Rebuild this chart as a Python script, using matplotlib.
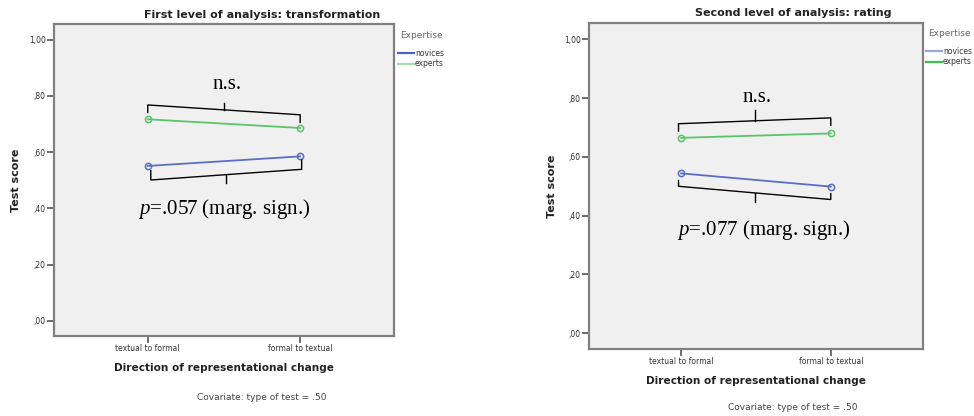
import matplotlib.pyplot as plt
from matplotlib.lines import Line2D

plt.rcParams['mathtext.fontset'] = 'custom'
plt.rcParams['mathtext.it'] = 'Liberation Serif:italic'
plt.rcParams['mathtext.rm'] = 'Liberation Serif'

# data
directions = ['textual to formal', 'formal to textual']
yticks = [0.0, 0.2, 0.4, 0.6, 0.8, 1.0]
ytick_labels = [',00', ',20', ',40', ',60', ',80', '1,00']

novices_transf = [0.551, 0.585]
experts_transf = [0.717, 0.686]
novices_rating = [0.544, 0.499]
experts_rating = [0.665, 0.680]

titles = ['First level of analysis: transformation', 'Second level of analysis: rating']
notes = ['p=.057 (marg. sign.)', 'p=.077 (marg. sign.)']

blue = '#5a6ec6'
green = '#5cc468'
frame = '#808080'

fig = plt.figure(figsize=(9.74, 4.16), dpi=100)
fig.patch.set_facecolor('white')


def bracket(ax, x0, y0, x1, y1, tick, nub):
	# skewed bracket: ends bent by tick, middle nub by nub
	xm = (x0 + x1) / 2
	ym = (y0 + y1) / 2
	ax.plot([x0, x0, x1, x1], [y0 + tick, y0, y1, y1 + tick], color='black', lw=1.0,
			solid_joinstyle='miter', zorder=4)
	ax.plot([xm, xm], [ym, ym + nub], color='black', lw=1.0, zorder=4)


def panel(rect, novices, experts, title, title_xy, xlab_y, cov_xy, ylab_x, leg, leg_colors):
	ax = fig.add_axes(rect)
	ax.set_facecolor('#f0f0f0')
	x = [0, 1]
	ax.plot(x, novices, color=blue, lw=1.3, marker='o', ms=4.5, mfc='none', mec=blue, mew=1.1, zorder=3)
	ax.plot(x, experts, color=green, lw=1.3, marker='o', ms=4.5, mfc='none', mec=green, mew=1.1, zorder=3)
	ax.set_xlim(-0.615, 1.616)
	ax.set_ylim(-0.054, 1.056)
	ax.set_yticks(yticks)
	ax.set_yticklabels(ytick_labels, fontsize=5.5, color='#333333')
	ax.set_xticks(x)
	ax.set_xticklabels(directions, fontsize=5.5, color='#333333')
	ax.tick_params(direction='out', length=5, width=1.2, color='#555555', pad=1)
	for s in ax.spines.values():
		s.set_color(frame)
		s.set_linewidth(1.6)
	bb = ax.get_position()
	fig.text(title_xy[0] / 974, 1 - title_xy[1] / 416, title, ha='center', va='center',
			 fontsize=8, fontweight='bold', color='#222222')
	fig.text((bb.x0 + bb.x1) / 2, 1 - xlab_y / 416, 'Direction of representational change',
			 ha='center', va='center', fontsize=7.6, fontweight='bold', color='#222222')
	fig.text(cov_xy[0] / 974, 1 - cov_xy[1] / 416, 'Covariate: type of test = .50', ha='center',
			 va='center', fontsize=6.5, color='#444444')
	fig.text(ylab_x / 974, (bb.y0 + bb.y1) / 2, 'Test score', rotation=90, ha='center',
			 va='center', fontsize=8, fontweight='bold', color='#222222')
	# legend drawn beside the frame
	lx, ly = leg
	fig.text(lx / 974, 1 - ly / 416, 'Expertise', fontsize=6.5, color='#666666', va='center')
	for k, (name, c) in enumerate(zip(['novices', 'experts'], leg_colors)):
		yy = 1 - (ly + 17 + 11 * k) / 416
		fig.add_artist(Line2D([(lx - 2) / 974, (lx + 14) / 974], [yy, yy], color=c, lw=1.6,
							  transform=fig.transFigure))
		fig.text((lx + 15) / 974, yy, name, fontsize=5.5, color='#333333', va='center')
	return ax


ax1 = panel([54 / 974, 1 - 336 / 416, 340 / 974, 312 / 416], novices_transf, experts_transf,
			titles[0], (262, 15), 368, (262, 397), 16, (400, 36), ['#4f63c4', '#a6dcab'])
bracket(ax1, 0.0, 0.768, 1.0, 0.733, -0.027, 0.025)
bracket(ax1, 0.02, 0.501, 1.01, 0.539, 0.033, -0.03)
ax1.text(0.52, 0.839, 'n.s.', ha='center', va='center', fontsize=15, family='Liberation Serif')
ax1.text(0.5, 0.397, r'$\mathit{p}$' + notes[0][1:], ha='center', va='center', fontsize=15,
		 family='Liberation Serif')

ax2 = panel([589 / 974, 1 - 349 / 416, 334 / 974, 326 / 416], novices_rating, experts_rating,
			titles[1], (793, 13), 381, (793, 407), 552, (928, 34), ['#9aa6de', '#3cbf4e'])
bracket(ax2, -0.017, 0.713, 1.0, 0.733, -0.025, 0.036)
bracket(ax2, -0.017, 0.5, 1.0, 0.455, 0.02, -0.03)
ax2.text(0.505, 0.803, 'n.s.', ha='center', va='center', fontsize=15, family='Liberation Serif')
ax2.text(0.549, 0.351, r'$\mathit{p}$' + notes[1][1:], ha='center', va='center', fontsize=15,
		 family='Liberation Serif')

fig.savefig('out.png', dpi=100)
